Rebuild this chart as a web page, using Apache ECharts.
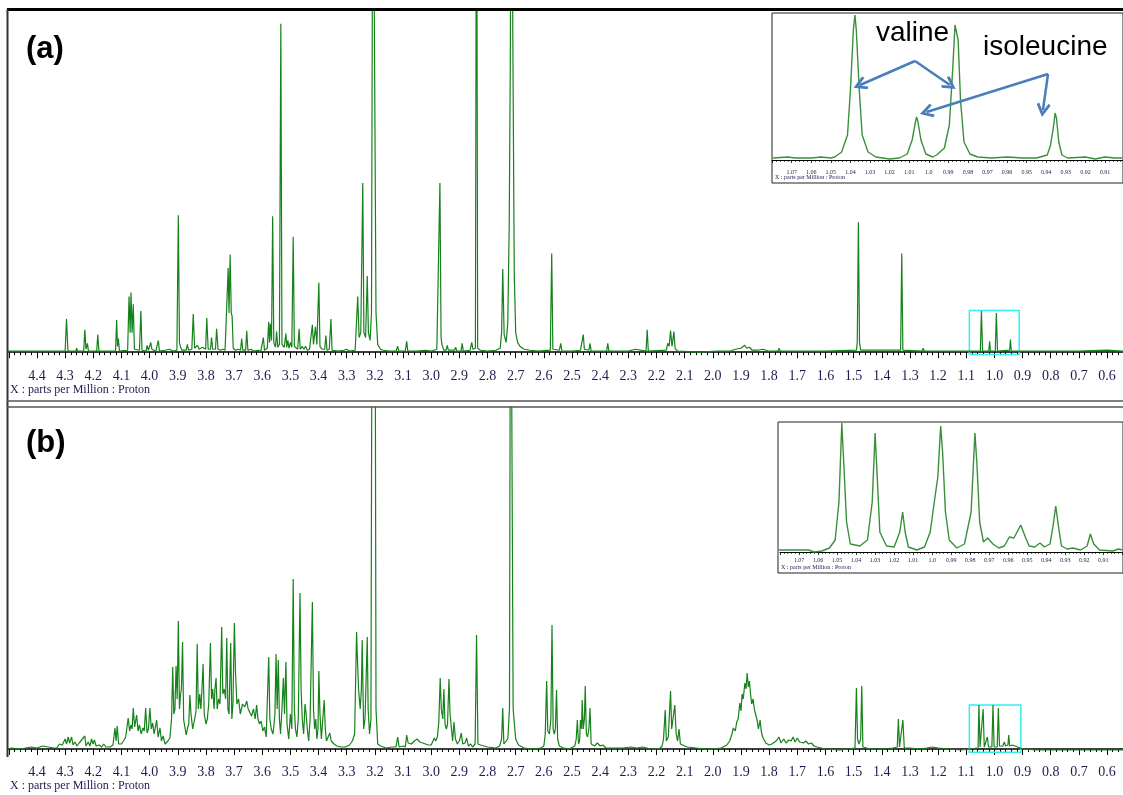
<!DOCTYPE html>
<html>
<head>
<meta charset="utf-8">
<script src="https://cdn.jsdelivr.net/npm/echarts@6/dist/echarts.min.js"></script>
<style>
  html, body { margin: 0; padding: 0; background: #fff; }
  #chart { width: 1123px; height: 795px; }
</style>
</head>
<body>
<div id="chart"></div>
<script>
// spectrum traces: [ppm, intensity]
const spectrumA = [
  [4.507,1],[4.40,1],[4.39,1],[4.387,3],[4.383,1],
  [4.30,1],[4.295,34],[4.290,1],
  [4.262,1],[4.259,4],[4.256,1],
  [4.234,1],[4.230,23],[4.226,3],[4.221,9],[4.217,1],
  [4.188,1],[4.184,18],[4.180,1],
  [4.121,1],[4.117,33],[4.114,6],[4.111,14],[4.107,1],
  [4.078,2],[4.073,57],[4.069,20],[4.066,61],[4.062,20],[4.058,49],[4.054,3],
  [4.036,2],[4.031,42],[4.027,2],
  [4.012,1],[4.009,7],[4.004,2],[3.996,10],[3.992,3],[3.985,5],[3.978,1],
  [3.972,1],[3.969,12],[3.965,1],
  [3.945,2],[3.94,1],[3.93,3],[3.915,1],
  [3.903,2],[3.898,140],[3.894,10],[3.890,5],[3.885,2],
  [3.870,2],[3.866,8],[3.862,2],
  [3.850,3],[3.845,39],[3.840,4],[3.830,7],[3.824,3],[3.818,3],[3.812,5],
  [3.801,3],[3.797,35],[3.792,3],[3.784,3],[3.780,15],[3.776,3],
  [3.766,3],[3.762,24],[3.757,3],[3.748,2],[3.740,3],[3.732,2],
  [3.726,4],[3.721,86],[3.718,40],[3.714,100],[3.710,40],[3.707,37],[3.703,4],
  [3.695,2],[3.685,3],[3.677,2],[3.673,14],[3.669,2],[3.659,2],[3.655,22],[3.651,2],
  [3.640,3],[3.630,1],[3.615,2],[3.605,1],
  [3.600,2],[3.596,15],[3.592,2],
  [3.582,4],[3.577,31],[3.574,10],[3.571,29],[3.567,12],[3.563,139],[3.559,10],[3.553,5],[3.549,21],[3.545,5],
  [3.539,8],[3.534,336],[3.530,8],[3.522,5],[3.516,19],[3.513,5],[3.509,12],[3.505,4],[3.500,10],[3.495,5],
  [3.490,118],[3.486,6],[3.480,4],[3.474,3],[3.469,24],[3.465,3],[3.458,6],[3.452,3],[3.446,6],[3.440,2],[3.432,3],
  [3.426,4],[3.422,28],[3.418,8],[3.411,26],[3.406,8],[3.399,71],[3.395,6],[3.388,3],[3.384,2],
  [3.378,3],[3.374,17],[3.370,2],[3.362,3],[3.356,34],[3.352,2],
  [3.33,1],[3.31,2],[3.30,3],[3.29,1],[3.27,2],
  [3.265,4],[3.261,57],[3.256,15],[3.250,20],[3.243,173],[3.239,20],[3.233,15],[3.227,78],[3.223,20],[3.217,12],[3.212,40],
  [3.207,600],[3.200,600],[3.196,40],[3.19,8],[3.18,3],[3.17,2],[3.15,1],
  [3.125,1],[3.119,6],[3.115,1],[3.092,1],[3.087,11],[3.083,1],
  [3.05,1],[3.02,2],[3.00,1],[2.98,3],
  [2.974,5],[2.969,173],[2.965,15],[2.962,8],[2.955,2],
  [2.947,2],[2.943,7],[2.939,2],[2.917,2],[2.913,5],[2.909,1],[2.894,1],[2.890,9],[2.886,1],
  [2.862,2],[2.856,10],[2.852,3],[2.843,4],[2.839,600],[2.835,4],[2.825,2],[2.80,1],[2.77,2],
  [2.755,4],[2.750,20],[2.746,85],[2.741,18],[2.734,10],[2.728,30],[2.723,129],[2.719,300],[2.716,600],[2.710,600],
  [2.705,80],[2.700,20],[2.693,10],[2.685,6],[2.670,3],[2.65,2],[2.62,1],
  [2.577,2],[2.572,101],[2.568,3],[2.545,2],[2.540,9],[2.536,1],
  [2.50,1],[2.47,2],[2.464,3],[2.460,18],[2.456,3],[2.44,2],[2.436,9],[2.432,1],
  [2.40,1],[2.377,1],[2.373,9],[2.369,1],[2.33,1],[2.30,1],[2.275,3],[2.27,1],
  [2.237,1],[2.233,23],[2.229,1],
  [2.165,2],[2.160,9],[2.155,6],[2.150,22],[2.145,6],[2.138,21],[2.134,4],[2.13,5],[2.125,1],
  [2.05,0],[1.98,1],[1.94,1],[1.92,3],[1.90,4],[1.887,7],[1.88,4],[1.87,5],[1.86,2],[1.84,2],
  [1.823,3],[1.80,1],[1.768,1],[1.765,4],[1.76,1],[1.7,1],[1.6,1],
  [1.49,2],[1.487,10],[1.483,133],[1.479,10],[1.475,2],
  [1.333,2],[1.329,101],[1.325,2],
  [1.257,1],[1.253,4],[1.249,1],
  [1.10,1],[1.050,1],[1.046,42],[1.042,1],
  [1.020,1],[1.017,11],[1.014,1],
  [0.997,1],[0.993,40],[0.989,1],
  [0.946,2],[0.943,13],[0.940,1],
  [0.85,1],[0.7,1],[0.6,2],[0.54,1]
];

const spectrumB = [
  [4.507,0],[4.49,1],[4.46,0],[4.44,1],[4.42,2],[4.40,1],[4.38,3],[4.36,2],[4.34,1],[4.33,1],
  [4.32,5],[4.315,7],[4.31,4],[4.30,10],[4.295,5],[4.289,12],[4.284,6],[4.277,12],[4.272,4],[4.265,7],[4.258,3],
  [4.250,6],[4.244,4],[4.230,13],[4.226,3],[4.218,7],[4.212,3],[4.206,10],[4.201,5],[4.196,9],[4.19,3],[4.18,4],
  [4.17,2],[4.163,5],[4.155,2],[4.14,2],[4.13,4],
  [4.123,21],[4.119,8],[4.115,23],[4.11,5],[4.10,5],[4.093,8],[4.085,12],
  [4.076,31],[4.071,18],[4.066,24],[4.062,20],[4.058,41],[4.053,22],[4.046,34],[4.041,18],[4.036,24],[4.03,15],
  [4.024,21],[4.019,18],[4.014,41],[4.009,16],[4.004,20],
  [3.999,41],[3.994,20],[3.989,26],[3.984,15],[3.975,29],[3.970,12],[3.963,21],[3.958,8],[3.952,13],[3.945,5],[3.935,8],
  [3.928,11],[3.922,30],[3.918,82],[3.914,35],[3.910,40],[3.906,83],[3.902,50],[3.898,128],[3.894,40],[3.890,55],
  [3.887,60],[3.883,107],[3.879,29],[3.870,14],[3.866,20],
  [3.861,25],[3.857,54],[3.853,35],[3.847,20],[3.840,30],[3.835,38],[3.831,105],[3.827,40],[3.822,55],[3.818,40],
  [3.814,60],[3.810,85],[3.806,35],[3.800,25],[3.795,30],[3.790,45],
  [3.784,106],[3.780,50],[3.776,60],[3.771,40],[3.768,60],[3.764,71],[3.760,40],[3.755,50],[3.750,45],[3.744,122],
  [3.740,55],[3.735,60],[3.730,50],[3.726,111],[3.722,40],[3.718,35],[3.712,106],[3.708,30],[3.704,45],[3.699,126],
  [3.695,77],[3.690,45],[3.684,50],[3.678,35],[3.670,45],[3.662,42],[3.655,48],[3.650,40],[3.645,38],[3.638,33],
  [3.631,40],[3.625,30],
  [3.620,44],[3.615,30],[3.610,25],[3.604,28],[3.598,18],[3.592,22],[3.586,12],[3.580,14],
  [3.577,92],[3.573,30],[3.568,20],[3.562,15],[3.558,25],[3.555,35],[3.551,95],[3.547,40],[3.543,89],[3.539,30],[3.535,15],
  [3.530,40],[3.525,71],[3.521,35],[3.516,87],[3.512,25],[3.506,10],[3.500,35],[3.495,20],
  [3.490,170],[3.486,40],[3.482,20],[3.477,12],[3.472,30],[3.466,156],[3.462,60],[3.458,30],[3.453,15],[3.448,45],
  [3.444,35],[3.440,20],[3.435,8],[3.430,30],
  [3.422,147],[3.418,40],[3.414,20],[3.410,30],[3.406,10],[3.402,20],
  [3.399,78],[3.395,35],[3.390,10],[3.385,30],[3.380,49],[3.376,20],[3.372,8],[3.366,12],
  [3.360,16],[3.355,8],[3.345,5],[3.335,3],[3.32,2],[3.305,2],[3.29,4],[3.28,8],
  [3.272,15],[3.265,117],[3.262,90],[3.258,60],[3.252,40],[3.248,60],[3.245,109],[3.240,20],[3.235,30],[3.227,112],
  [3.224,40],[3.219,15],[3.214,30],
  [3.209,600],[3.200,600],[3.196,40],[3.19,5],[3.18,3],[3.16,1],[3.14,2],
  [3.125,2],[3.119,12],[3.114,2],[3.10,3],[3.092,2],[3.087,14],[3.082,6],[3.07,5],[3.06,8],[3.05,10],[3.04,7],
  [3.03,6],[3.02,5],[3.01,4],[3.0,4],
  [2.994,6],[2.989,11],[2.984,8],[2.978,12],[2.973,27],[2.968,71],[2.964,40],[2.959,30],[2.955,60],[2.951,25],
  [2.946,20],[2.942,25],[2.937,70],[2.933,35],[2.928,20],[2.924,8],[2.919,27],[2.914,10],[2.907,5],[2.900,8],
  [2.893,16],[2.888,5],[2.880,6],[2.874,11],[2.868,3],[2.860,5],[2.853,2],
  [2.844,5],[2.839,114],[2.834,5],[2.825,4],[2.80,2],[2.77,1],[2.757,3],
  [2.750,10],[2.746,41],[2.742,5],[2.735,5],[2.728,10],[2.722,40],[2.718,600],[2.713,600],[2.709,40],[2.70,10],
  [2.69,4],[2.67,1],[2.64,0],[2.61,1],
  [2.600,3],[2.595,15],[2.590,68],[2.586,18],[2.580,15],[2.575,30],[2.571,124],[2.567,20],[2.563,15],[2.559,20],
  [2.555,59],[2.551,10],[2.545,3],[2.53,1],[2.51,0],
  [2.490,3],[2.485,10],[2.481,29],[2.477,5],[2.473,8],[2.470,29],[2.466,20],[2.464,49],[2.460,20],[2.456,30],
  [2.453,63],[2.449,15],[2.445,12],[2.440,20],[2.436,41],[2.432,5],[2.425,6],[2.42,3],[2.41,6],[2.40,3],[2.39,4],[2.38,1],
  [2.35,1],[2.32,1],[2.29,2],[2.27,1],[2.25,2],[2.22,0],[2.19,0],
  [2.180,3],[2.175,10],[2.169,39],[2.165,8],[2.158,12],[2.150,58],[2.146,20],[2.140,20],[2.135,44],[2.130,15],
  [2.125,8],[2.120,20],[2.115,5],[2.10,3],[2.09,2],[2.06,1],[2.03,0],[2.0,0],
  [1.97,1],[1.95,4],[1.94,8],[1.932,15],[1.927,21],[1.920,18],[1.915,27],[1.910,30],[1.904,46],[1.900,38],
  [1.896,55],[1.892,50],[1.886,66],[1.882,60],[1.878,76],[1.874,62],[1.870,68],[1.866,55],[1.862,45],[1.857,50],
  [1.852,39],[1.848,35],[1.842,28],[1.838,20],[1.832,29],[1.828,18],[1.823,12],[1.818,10],[1.812,6],[1.80,4],[1.79,5],
  [1.775,8],[1.765,12],[1.758,6],[1.748,10],[1.74,6],[1.73,9],[1.722,8],[1.715,12],[1.708,7],[1.700,11],[1.692,7],
  [1.685,9],[1.678,6],[1.670,8],[1.66,5],[1.65,6],[1.64,3],[1.63,2],[1.60,0],[1.55,-1],[1.52,0],
  [1.495,1],[1.490,61],[1.486,10],[1.481,5],[1.475,10],[1.471,63],[1.467,2],[1.44,0],[1.40,0],[1.36,1],
  [1.345,2],[1.341,30],[1.337,2],[1.330,2],[1.325,29],[1.320,1],[1.30,1],[1.27,0],[1.24,1],[1.22,2],[1.20,1],[1.16,0],[1.12,-1],
  [1.058,1],[1.055,44],[1.051,2],[1.044,2],[1.040,40],[1.036,2],[1.029,3],[1.025,12],[1.021,2],[1.009,2],[1.005,44],
  [1.001,2],[0.990,2],[0.986,41],[0.982,3],[0.970,3],[0.965,7],[0.960,3],[0.952,4],[0.949,14],[0.946,3],[0.939,3],
  [0.936,4],[0.932,2],[0.90,0],[0.85,-1],[0.75,-1],[0.65,-1],[0.54,-1]
];

// zoomed insets (1.08 - 0.90 ppm)
const insetA = [
  [1.0796,2],[1.072,3],[1.068,2],[1.060,2],[1.055,3],[1.050,2],
  [1.048,3],[1.0445,8],[1.0415,25],[1.0400,70],[1.0385,130],[1.0377,145],[1.0370,130],[1.0355,70],[1.0340,25],
  [1.031,8],[1.027,3],[1.020,1],[1.015,2],
  [1.011,6],[1.0085,20],[1.0068,38],[1.0062,43],[1.0055,38],[1.0040,20],[1.0015,6],[0.998,3],
  [0.996,5],[0.992,12],[0.9895,35],[0.9878,90],[0.9866,135],[0.9858,137],[0.9850,120],[0.9838,60],[0.982,18],
  [0.979,6],[0.975,3],[0.968,2],[0.960,3],[0.952,2],[0.945,2],
  [0.9395,5],[0.9378,15],[0.937,17],[0.9362,35],[0.9355,47],[0.9348,42],[0.9336,18],[0.932,5],[0.929,2],
  [0.920,3],[0.915,1],[0.910,3],[0.905,2],[0.9013,2]
];

const insetB = [
  [1.0805,2],[1.075,2],[1.065,2],[1.062,0],[1.058,1],[1.054,4],[1.051,12],
  [1.0490,50],[1.0475,129],[1.0465,90],[1.0450,30],[1.043,8],[1.038,6],
  [1.034,12],[1.0315,50],[1.0300,119],[1.0290,80],[1.0275,20],[1.024,6],[1.020,5],
  [1.0170,20],[1.0155,40],[1.0142,20],[1.0125,5],[1.008,2],
  [1.004,5],[1.001,20],[0.9985,55],[0.9970,75],[0.9955,126],[0.9945,100],[0.9930,40],[0.991,12],[0.987,4],
  [0.983,8],[0.9795,40],[0.9775,119],[0.9765,90],[0.9750,30],[0.973,10],[0.9708,14],[0.968,8],[0.965,4],
  [0.962,6],[0.9594,15],[0.957,14],[0.9534,27],[0.951,15],[0.949,6],[0.946,5],[0.9433,9],[0.941,5],
  [0.938,8],[0.9365,25],[0.935,46],[0.9335,25],[0.932,6],[0.929,3],[0.926,4],[0.922,2],
  [0.9185,6],[0.9168,18],[0.915,8],[0.912,2],[0.905,1],[0.902,3],[0.900,2]
];

// cyan highlight boxes on the main traces: [[ppmLeft, low], [ppmRight, high]]
const boxA = [[1.089, -2.3], [0.912, 42.7]];
const boxB = [[1.089, -3.3], [0.906, 44]];

// annotation arrows in the (a) inset: [from, to] in inset coordinates
const valineArrows = [
  [[1.0070, 99], [1.0351, 75]],
  [[1.0070, 99], [0.9892, 75]]
];
const isoleucineArrows = [
  [[0.9391, 86], [1.0011, 48]],
  [[0.9391, 86], [0.9417, 50]]
];

const GREEN = '#15821a';
const INSET_GREEN = '#3a903a';
const LABEL = '#1c1c50';
const ARROW = '#4a7ebb';
const chevron = 'path://M5,0 L10,8 L8.4,9.2 L5,3.6 L1.6,9.2 L0,8 Z';

function mainLabel(v) {
  if (v > 4.45 || v < 0.55) return '';
  return v.toFixed(1);
}
function insetLabel(v) {
  if (v > 1.075 || v < 0.905) return '';
  if (Math.abs(v - 1) < 1e-6) return '1.0';
  return v.toFixed(2);
}

function mainX(gridIndex) {
  return {
    gridIndex: gridIndex, type: 'value', min: 0.5, max: 4.5, interval: 0.1, inverse: true,
    axisLine: { lineStyle: { color: '#000', width: 1.5 } },
    axisTick: { length: 6, lineStyle: { color: '#000', width: 1 } },
    minorTick: { show: true, splitNumber: 5, length: 3, lineStyle: { color: '#000', width: 1 } },
    splitLine: { show: false },
    axisLabel: { formatter: mainLabel, fontFamily: 'Liberation Serif', fontSize: 14, color: LABEL, margin: 9 }
  };
}
function insetX(gridIndex, margin) {
  return {
    gridIndex: gridIndex, type: 'value', min: 0.9, max: 1.08, interval: 0.01, inverse: true,
    axisLine: { lineStyle: { color: '#000', width: 1 } },
    axisTick: { length: 3, lineStyle: { color: '#000', width: 0.8 } },
    minorTick: { show: true, splitNumber: 5, length: 2, lineStyle: { color: '#000', width: 0.6 } },
    splitLine: { show: false },
    axisLabel: { formatter: insetLabel, fontFamily: 'Liberation Serif', fontSize: 6, color: LABEL, margin: margin }
  };
}

const chart = echarts.init(document.getElementById('chart'));

chart.setOption({
  animation: false,
  backgroundColor: '#fff',
  grid: [
    { left: 8.8, width: 1126.4, top: 9, height: 351, outerBoundsMode: 'none', containLabel: false },
    { left: 772.1, width: 352.5, top: 13, height: 151, outerBoundsMode: 'none', containLabel: false },
    { left: 8.8, width: 1126.4, top: 407, height: 349, outerBoundsMode: 'none', containLabel: false },
    { left: 780, width: 342.3, top: 421.7, height: 134, outerBoundsMode: 'none', containLabel: false }
  ],
  xAxis: [mainX(0), insetX(1, 5), mainX(2), insetX(3, 2)],
  yAxis: [
    { gridIndex: 0, type: 'value', min: -8, max: 351, show: false },
    { gridIndex: 1, type: 'value', min: -4, max: 147, show: false },
    { gridIndex: 2, type: 'value', min: -7, max: 342, show: false },
    { gridIndex: 3, type: 'value', min: -3.7, max: 130.3, show: false }
  ],
  graphic: [
    { type: 'rect', shape: { x: 772, y: 13, width: 351, height: 170 }, style: { fill: '#fff', stroke: '#222', lineWidth: 1 }, z: 0 },
    { type: 'rect', shape: { x: 778, y: 422, width: 345, height: 151 }, style: { fill: '#fff', stroke: '#222', lineWidth: 1 }, z: 0 },
    { type: 'line', shape: { x1: 7, y1: 9.5, x2: 1123, y2: 9.5 }, style: { stroke: '#000', lineWidth: 3 }, z: 10 },
    { type: 'line', shape: { x1: 7.5, y1: 9, x2: 7.5, y2: 757 }, style: { stroke: '#333', lineWidth: 2 }, z: 10 },
    { type: 'line', shape: { x1: 7, y1: 401, x2: 1123, y2: 401 }, style: { stroke: '#555', lineWidth: 1.5 }, z: 10 },
    { type: 'line', shape: { x1: 7, y1: 407, x2: 1123, y2: 407 }, style: { stroke: '#555', lineWidth: 1.5 }, z: 10 },
    { type: 'text', left: 26, top: 34, style: { text: '(a)', fontFamily: 'Liberation Sans', fontWeight: 'bold', fontSize: 31, fill: '#000' } },
    { type: 'text', left: 26, top: 428, style: { text: '(b)', fontFamily: 'Liberation Sans', fontWeight: 'bold', fontSize: 31, fill: '#000' } },
    { type: 'text', left: 10, top: 384, style: { text: 'X : parts per Million : Proton', fontFamily: 'Liberation Serif', fontSize: 12, fill: LABEL } },
    { type: 'text', left: 10, top: 780, style: { text: 'X : parts per Million : Proton', fontFamily: 'Liberation Serif', fontSize: 12, fill: LABEL } },
    { type: 'text', left: 775, top: 174, style: { text: 'X : parts per Million : Proton', fontFamily: 'Liberation Serif', fontSize: 6, fill: LABEL }, z: 5 },
    { type: 'text', left: 781, top: 564, style: { text: 'X : parts per Million : Proton', fontFamily: 'Liberation Serif', fontSize: 6, fill: LABEL }, z: 5 },
    { type: 'text', left: 876, top: 19, style: { text: 'valine', fontFamily: 'Liberation Sans', fontSize: 28, fill: '#000' }, z: 20 },
    { type: 'text', left: 983, top: 33, style: { text: 'isoleucine', fontFamily: 'Liberation Sans', fontSize: 28, fill: '#000' }, z: 20 }
  ],
  series: [
    {
      type: 'line', xAxisIndex: 0, yAxisIndex: 0, data: spectrumA, showSymbol: false, silent: true,
      lineStyle: { color: GREEN, width: 1.2 },
      markArea: {
        silent: true,
        itemStyle: { color: 'rgba(0,0,0,0)', borderColor: '#33eeee', borderWidth: 1.5 },
        data: [[{ coord: boxA[0] }, { coord: boxA[1] }]]
      }
    },
    {
      type: 'line', xAxisIndex: 1, yAxisIndex: 1, data: insetA, showSymbol: false, silent: true, z: 3,
      lineStyle: { color: INSET_GREEN, width: 1.4 },
      markLine: {
        silent: true, animation: false,
        symbol: ['none', chevron], symbolSize: [14, 14],
        lineStyle: { color: ARROW, width: 2.5, type: 'solid' },
        label: { show: false },
        data: valineArrows.concat(isoleucineArrows).map(function (a) {
          return [{ coord: a[0] }, { coord: a[1] }];
        })
      }
    },
    {
      type: 'line', xAxisIndex: 2, yAxisIndex: 2, data: spectrumB, showSymbol: false, silent: true,
      lineStyle: { color: GREEN, width: 1.2 },
      markArea: {
        silent: true,
        itemStyle: { color: 'rgba(0,0,0,0)', borderColor: '#33eeee', borderWidth: 1.5 },
        data: [[{ coord: boxB[0] }, { coord: boxB[1] }]]
      }
    },
    {
      type: 'line', xAxisIndex: 3, yAxisIndex: 3, data: insetB, showSymbol: false, silent: true, z: 3,
      lineStyle: { color: INSET_GREEN, width: 1.4 }
    }
  ]
});
</script>
</body>
</html>
